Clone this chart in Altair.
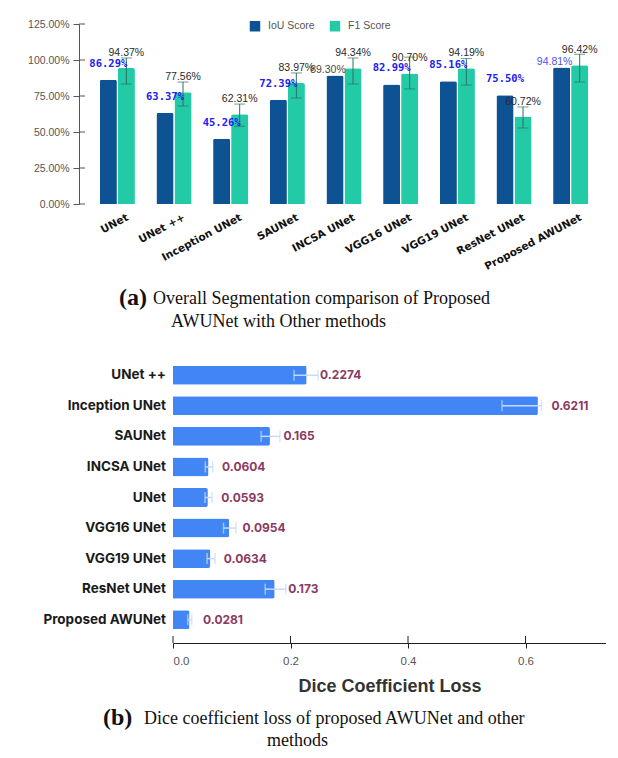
import altair as alt
import pandas as pd

# ---------------- data: panel (a) ----------------
models = ["UNet", "UNet ++", "Inception UNet", "SAUNet", "INCSA UNet",
          "VGG16 UNet", "VGG19 UNet", "ResNet UNet", "Proposed AWUNet"]
series_names = ["IoU Score", "F1 Score"]
iou_score = [86.29, 63.37, 45.26, 72.39, 89.30, 82.99, 85.16, 75.50, 94.81]
f1_score = [94.37, 77.56, 62.31, 83.97, 94.34, 90.70, 94.19, 60.72, 96.42]
f1_err_low = [83.3, 68.0, 54.0, 73.6, 83.3, 79.9, 82.6, 52.8, 84.7]
f1_err_high = [101.4, 84.7, 69.4, 91.0, 101.4, 102.0, 101.0, 67.4, 104.0]
pct_ticks = [0, 25, 50, 75, 100, 125]

# ---------------- data: panel (b) ----------------
loss_models = ["UNet ++", "Inception UNet", "SAUNet", "INCSA UNet", "UNet",
               "VGG16 UNet", "VGG19 UNet", "ResNet UNet", "Proposed AWUNet"]
dice_loss = [0.2274, 0.6211, 0.165, 0.0604, 0.0593, 0.0954, 0.0634, 0.173, 0.0281]
loss_err_low = [0.206, 0.560, 0.150, 0.055, 0.0545, 0.086, 0.058, 0.157, 0.025]
loss_err_high = [0.247, 0.627, 0.182, 0.0676, 0.0665, 0.107, 0.0716, 0.192, 0.032]
loss_ticks = [0.0, 0.2, 0.4, 0.6]

# ---------------- caption texts ----------------
cap_a_tag = "(a)"
cap_a_line1 = "Overall Segmentation comparison of Proposed"
cap_a_line2 = "AWUNet with Other methods"
cap_b_tag = "(b)"
cap_b_line1 = "Dice coefficient loss of proposed AWUNet and other"
cap_b_line2 = "methods"

# ---------------- tables ----------------
long_df = pd.DataFrame({
    "model": models * 2,
    "series": [series_names[0]] * len(models) + [series_names[1]] * len(models),
    "value": iou_score + f1_score,
})
long_df["label"] = long_df["value"].map(lambda v: f"{v:.2f}%")
err_df = pd.DataFrame({"model": models, "series": series_names[1],
                       "lo": f1_err_low, "hi": f1_err_high})
pct_df = pd.DataFrame({"value": pct_ticks})

loss_df = pd.DataFrame({"model": loss_models, "loss": dice_loss,
                        "lo": loss_err_low, "hi": loss_err_high})
loss_df["label"] = [str(v) for v in dice_loss]
loss_tick_df = pd.DataFrame({"loss": loss_ticks})

# ---------------- panel (a) encodings ----------------
x_scale_a = alt.Scale(domain=models, paddingInner=0.38, paddingOuter=0.19)
x_axis_a = alt.Axis(title=None, labelAngle=-28, labelAlign="right", labelBaseline="top",
                    labelFont="DejaVu Sans", labelFontWeight="bold", labelFontSize=10.5,
                    labelColor="#111111", labelOffset=8, labelPadding=8,
                    domain=False, ticks=False)
y_scale_a = alt.Scale(domain=[0, 125], nice=False)
y_axis_a = alt.Axis(title=None, values=pct_ticks, labelOverlap=False,
                    labelExpr="format(datum.value, '.2f') + '%'",
                    grid=False, offset=10, domainColor="#555555", tickColor="#555555",
                    tickSize=6, labelFont="Liberation Sans", labelFontSize=10.5,
                    labelColor="#555555", labelPadding=4)


def xa():
    return alt.X("model:N", sort=models, scale=x_scale_a, axis=x_axis_a)


def xo():
    return alt.XOffset("series:N", sort=series_names,
                       scale=alt.Scale(domain=series_names, paddingInner=0.05))


def ya(field):
    return alt.Y(field, scale=y_scale_a, axis=y_axis_a)


bars_a = alt.Chart(long_df).mark_bar(cornerRadiusTopLeft=2, cornerRadiusTopRight=2).encode(
    x=xa(), xOffset=xo(), y=ya("value:Q"),
    color=alt.Color("series:N",
                    scale=alt.Scale(domain=series_names, range=["#0d5293", "#22caa6"]),
                    legend=alt.Legend(title=None, orient="none", legendX=160, legendY=-4,
                                      direction="horizontal", symbolType="square",
                                      symbolSize=110, labelFont="Liberation Sans",
                                      labelFontSize=10.5, labelColor="#555555",
                                      columnPadding=14, labelOffset=7, padding=0)),
)

err_rule = alt.Chart(err_df).mark_rule(color="#2f6f62", strokeWidth=1).encode(
    x=xa(), xOffset=xo(), y=ya("lo:Q"), y2="hi:Q")
err_caps = alt.Chart(err_df).transform_fold(["lo", "hi"], as_=["end", "v"]).mark_tick(
    color="#2f6f62", thickness=1, size=11).encode(
    x=xa(), xOffset=xo(), y=ya("v:Q"))

# inner half of the y-axis ticks (the reference ticks cross the axis line)
inner_ticks_a = alt.Chart(pct_df).mark_rule(color="#555555", strokeWidth=1).encode(
    y=ya("value:Q"), x=alt.value(-10), x2=alt.value(-4))

iou_lab = alt.Chart(long_df).transform_filter(
    "datum.series === 'IoU Score' && datum.model !== 'INCSA UNet' && datum.model !== 'Proposed AWUNet'"
).mark_text(baseline="middle", dy=-16, font="DejaVu Sans Mono", fontWeight="bold",
            fontSize=10.5, color="#2020f0").encode(
    x=xa(), xOffset=xo(), y=ya("value:Q"), text="label:N")
iou_lab2 = alt.Chart(long_df).transform_filter(
    "datum.series === 'IoU Score' && (datum.model === 'INCSA UNet' || datum.model === 'Proposed AWUNet')"
).mark_text(baseline="middle", dy=-5, dx=-7, font="Liberation Sans",
            fontSize=10.5).encode(
    x=xa(), xOffset=xo(), y=ya("value:Q"), text="label:N",
    color=alt.condition("datum.model === 'INCSA UNet'", alt.value("#4a4a4a"), alt.value("#5050f0")))
f1_lab = alt.Chart(long_df).transform_filter("datum.series === 'F1 Score'").mark_text(
    baseline="middle", dy=-15, font="Liberation Sans", fontSize=10.5, color="#2b2b2b").encode(
    x=xa(), xOffset=xo(), y=ya("value:Q"), text="label:N")


def caption(txt, x, y, size, bold=False):
    return alt.Chart(pd.DataFrame({"t": [txt]})).mark_text(
        align="left", baseline="middle", font="Liberation Serif", fontSize=size,
        fontWeight="bold" if bold else "normal", color="#111111").encode(
        x=alt.value(x), y=alt.value(y), text="t:N")


top = alt.layer(
    bars_a, err_rule, err_caps, inner_ticks_a, iou_lab, iou_lab2, f1_lab,
    caption(cap_a_tag, 30, 274, 24, True),
    caption(cap_a_line1, 64, 275, 18),
    caption(cap_a_line2, 82, 298, 18),
).properties(width=510, height=180)

# ---------------- panel (b) encodings ----------------
y_scale_b = alt.Scale(domain=loss_models, paddingInner=0.38, paddingOuter=0.19)
x_scale_b = alt.Scale(domain=[0, 0.737], nice=False, range=[84, 517])
x_axis_b = alt.Axis(values=loss_ticks, format=".1f", grid=False, offset=8,
                    domainColor="#222222", tickColor="#222222", tickSize=5,
                    labelFont="Liberation Sans", labelFontSize=11.5, labelColor="#555555",
                    labelPadding=7, title="Dice Coefficient Loss",
                    titleFont="Liberation Sans", titleFontSize=18, titleFontWeight="bold",
                    titleColor="#333333", titlePadding=11)


def xb(field):
    return alt.X(field, scale=x_scale_b, axis=x_axis_b)


def yb():
    return alt.Y("model:N", sort=loss_models, scale=y_scale_b, axis=None)


bars_b = alt.Chart(loss_df).mark_bar(color="#4285f4", cornerRadiusEnd=2).encode(
    x=xb("loss:Q"), y=yb())
err_b = alt.Chart(loss_df).mark_rule(color="#c6dafc", strokeWidth=1.5).encode(
    x=xb("lo:Q"), x2="hi:Q", y=yb())
caps_b = alt.Chart(loss_df).transform_fold(["lo", "hi"], as_=["end", "v"]).mark_tick(
    color="#c6dafc", thickness=1.5, size=11).encode(x=xb("v:Q"), y=yb())
lab_b = alt.Chart(loss_df).mark_text(align="left", baseline="middle", dx=13.5, font="Inter",
                                     fontWeight="bold", fontSize=12, color="#8b3a62").encode(
    x=xb("loss:Q"), y=yb(), text="label:N")
cat_b = alt.Chart(loss_df).mark_text(align="right", baseline="middle", font="Inter",
                                     fontWeight="bold", fontSize=13.5, color="#1a1a1a").encode(
    x=alt.value(77), y=yb(), text="model:N")
# inner half of the x-axis ticks (they cross the axis line in the reference)
inner_ticks_b = alt.Chart(loss_tick_df).mark_rule(color="#222222", strokeWidth=1).encode(
    x=xb("loss:Q"), y=alt.value(276), y2=alt.value(283))

bottom = alt.layer(
    bars_b, err_b, caps_b, lab_b, cat_b, inner_ticks_b,
    caption(cap_b_tag, 14, 358, 24, True),
    caption(cap_b_line1, 55, 359, 18),
    caption(cap_b_line2, 178, 381, 18),
).properties(width=517, height=275)

chart = alt.vconcat(top, bottom, spacing=156, bounds="flush").properties(
    padding={"left": 19, "top": 11, "right": 0, "bottom": 0}
).configure(font="Liberation Sans", background="white").configure_view(strokeWidth=0)

chart.save("out.html", embed_options={"renderer": "svg", "actions": False})
